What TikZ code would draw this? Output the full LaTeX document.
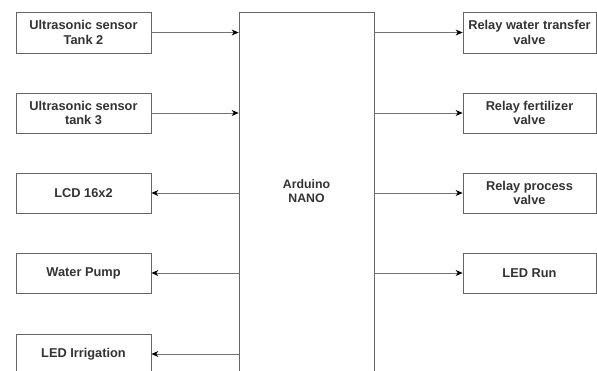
\documentclass[tikz,border=0pt]{standalone}
\usepackage{fontspec}
\setmainfont{Liberation Sans}
\usetikzlibrary{arrows.meta}
\begin{document}
\begin{tikzpicture}[x=1pt,y=-1pt,
  blk/.style={draw=black!60,line width=0.8pt,fill=white,align=center,inner sep=1pt,
    font=\fontsize{12.8}{14.5}\selectfont\bfseries,text=black!80},
  conn/.style={draw=black!55,line width=0.8pt,-{Stealth[length=7pt,width=6pt,black]}}]
\useasboundingbox (0,0) rectangle (597,370);
\clip (0,0) rectangle (597,370);
% left column
\node[blk,minimum width=135pt,minimum height=41pt] (u2) at (83.5,32.5) {Ultrasonic sensor\\Tank 2};
\node[blk,minimum width=135pt,minimum height=40pt] (u3) at (83.5,113) {Ultrasonic sensor\\tank 3};
\node[blk,minimum width=135pt,minimum height=40pt] (lcd) at (83.5,193) {LCD 16x2};
\node[blk,minimum width=135pt,minimum height=40pt] (pump) at (83.5,273) {Water Pump};
\node[blk,minimum width=135pt,minimum height=40pt] (ledi) at (83.5,354) {LED Irrigation};
% arduino
\node[blk,minimum width=135pt,minimum height=400pt] (ard) at (306.5,212) {};
\node[blk,draw=none,fill=none,font=\fontsize{12.3}{14.5}\selectfont\bfseries] (ardtxt) at (306.5,191) {Arduino\\NANO};
% right column
\node[blk,minimum width=133pt,minimum height=41pt] (r1) at (529.5,32.5) {Relay water transfer\\valve};
\node[blk,minimum width=133pt,minimum height=40pt] (r2) at (529.5,113) {Relay fertilizer\\valve};
\node[blk,minimum width=133pt,minimum height=40pt] (r3) at (529.5,193) {Relay process\\valve};
\node[blk,minimum width=133pt,minimum height=40pt] (r4) at (529.5,273) {LED Run};
% connectors
\draw[conn] (u2.east) -- (u2.east -| ard.west);
\draw[conn] (u3.east) -- (u3.east -| ard.west);
\draw[conn] (ard.west |- lcd.east) -- (lcd.east);
\draw[conn] (ard.west |- pump.east) -- (pump.east);
\draw[conn] (ard.west |- ledi.east) -- (ledi.east);
\draw[conn] (ard.east |- r1.west) -- (r1.west);
\draw[conn] (ard.east |- r2.west) -- (r2.west);
\draw[conn] (ard.east |- r3.west) -- (r3.west);
\draw[conn] (ard.east |- r4.west) -- (r4.west);
\end{tikzpicture}
\end{document}
